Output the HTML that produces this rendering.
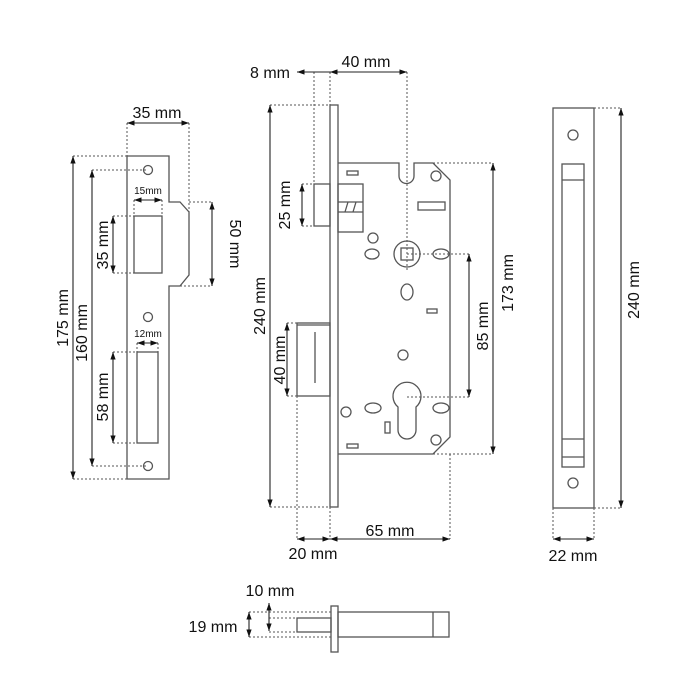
<!DOCTYPE html>
<html><head><meta charset="utf-8"><style>
html,body{margin:0;padding:0;background:#fff;}
svg{display:block;}
text{font-family:"Liberation Sans",Arial,sans-serif;fill:#111;font-size:16px;}
</style></head><body>
<svg width="700" height="700" viewBox="0 0 700 700" xmlns="http://www.w3.org/2000/svg">
<defs>
<marker id="a" viewBox="0 0 10 10" refX="10" refY="5" markerWidth="7" markerHeight="7" orient="auto-start-reverse"><path d="M0,1.5 L10,5 L0,8.5 z" fill="#111"/></marker>
</defs>
<g fill="none" stroke="#555" stroke-width="1.3">
<path d="M127,156 H169 V202 H180 L189,212 V275 L180,286 H169 V479 H127 Z"/>
<circle cx="148" cy="170" r="4.5"/><circle cx="148" cy="317" r="4.5"/><circle cx="148" cy="466" r="4.5"/>
<rect x="134" y="216" width="28" height="57"/>
<rect x="137" y="352" width="21" height="91"/>
<rect x="330" y="105" width="8" height="402"/>
<path d="M338,163 H399 V176 A7.5,7.5 0 0 0 414,176 V163 H433 L450,180 V437 L433,454 H338"/>
<rect x="314" y="184" width="16" height="42"/>
<rect x="338" y="184" width="25" height="48"/>
<line x1="338" y1="202" x2="363" y2="202"/><line x1="338" y1="212" x2="363" y2="212"/>
<line x1="345" y1="212" x2="348" y2="202"/><line x1="353" y1="212" x2="356" y2="202"/>
<rect x="297" y="323" width="33" height="73"/>
<line x1="297" y1="325" x2="330" y2="325"/>
<line x1="315" y1="332" x2="315" y2="383"/>
<rect x="347" y="171" width="11" height="4"/>
<circle cx="436" cy="176" r="5"/>
<rect x="418" y="202" width="27" height="8"/>
<circle cx="373" cy="238" r="5"/>
<ellipse cx="372" cy="254" rx="7" ry="5"/>
<circle cx="407" cy="254" r="13"/>
<rect x="401" y="248" width="12" height="12"/>
<ellipse cx="441" cy="254" rx="8" ry="5"/>
<ellipse cx="407" cy="292" rx="6" ry="8"/>
<rect x="427" y="309" width="10" height="4"/>
<circle cx="403" cy="355" r="5"/>
<path d="M398,407 A14,14 0 1 1 416,407 V430 A9,9 0 0 1 398,430 Z"/>
<circle cx="346" cy="412" r="5"/>
<ellipse cx="373" cy="408" rx="8" ry="5"/>
<ellipse cx="441" cy="408" rx="8" ry="5"/>
<rect x="385" y="422" width="5" height="11"/>
<rect x="347" y="444" width="11" height="4"/>
<circle cx="436" cy="440" r="5"/>
<rect x="553" y="108" width="41" height="400"/>
<circle cx="573" cy="135" r="5"/><circle cx="573" cy="483" r="5"/>
<rect x="562" y="164" width="22" height="303"/>
<line x1="562" y1="180" x2="584" y2="180"/>
<line x1="562" y1="439" x2="584" y2="439"/><line x1="562" y1="457" x2="584" y2="457"/>
<rect x="331" y="606" width="7" height="46"/>
<rect x="338" y="612" width="111" height="25"/>
<line x1="433" y1="612" x2="433" y2="637"/>
<rect x="297" y="618" width="34" height="14"/>
</g>
<g fill="none" stroke="#555" stroke-width="1" stroke-dasharray="2,2">
<path d="M127,123 V156 M189,123 V212 M73,156 H127 M73,479 H127 M92,170 H148 M92,466 H148 M113,216 H134 M113,273 H134 M113,352 H137 M113,443 H137 M134,200 V216 M162,200 V216 M137,343 V352 M158,343 V352 M189,202 H212 M180,286 H212"/>
<path d="M314,72 V184 M330,72 V105 M407,72 V270 M270,105 H330 M270,507 H330 M302,184 H314 M302,226 H314 M287,323 H297 M287,396 H297 M433,163 H493 M433,454 H493 M407,254 H469 M407,397 H469 M297,396 V539 M330,507 V539 M450,454 V539"/>
<path d="M594,108 H621 M594,508 H621 M553,508 V539 M594,508 V539"/>
<path d="M249,612 H331 M249,637 H331 M269,618 H297 M269,632 H297"/>
</g>
<g stroke="#222" stroke-width="1.1" marker-start="url(#a)" marker-end="url(#a)">
<line x1="127" y1="123" x2="189" y2="123"/>
<line x1="73" y1="156" x2="73" y2="479"/>
<line x1="92" y1="170" x2="92" y2="466"/>
<line x1="113" y1="216" x2="113" y2="273"/>
<line x1="113" y1="352" x2="113" y2="443"/>
<line x1="134" y1="200" x2="162" y2="200"/>
<line x1="137" y1="343" x2="158" y2="343"/>
<line x1="212" y1="202" x2="212" y2="286"/>
<line x1="330" y1="72" x2="407" y2="72"/>
<line x1="270" y1="105" x2="270" y2="507"/>
<line x1="302" y1="184" x2="302" y2="226"/>
<line x1="287" y1="323" x2="287" y2="396"/>
<line x1="493" y1="163" x2="493" y2="454"/>
<line x1="469" y1="254" x2="469" y2="397"/>
<line x1="297" y1="539" x2="330" y2="539"/>
<line x1="330" y1="539" x2="450" y2="539"/>
<line x1="621" y1="108" x2="621" y2="508"/>
<line x1="553" y1="539" x2="594" y2="539"/>
<line x1="249" y1="612" x2="249" y2="637"/>
<line x1="269" y1="603" x2="269" y2="631"/>
</g>
<line x1="297" y1="72" x2="330" y2="72" stroke="#222" stroke-width="1.1" marker-start="url(#a)"/>
<text x="157" y="118" text-anchor="middle">35 mm</text>
<text x="148" y="194" text-anchor="middle" style="font-size:10px">15mm</text>
<text x="148" y="337" text-anchor="middle" style="font-size:10px">12mm</text>
<text transform="translate(68,318) rotate(-90)" text-anchor="middle">175 mm</text>
<text transform="translate(87,333) rotate(-90)" text-anchor="middle">160 mm</text>
<text transform="translate(108,245) rotate(-90)" text-anchor="middle">35 mm</text>
<text transform="translate(108,397) rotate(-90)" text-anchor="middle">58 mm</text>
<text transform="translate(230,244) rotate(90)" text-anchor="middle">50 mm</text>
<text x="270" y="78" text-anchor="middle">8 mm</text>
<text x="366" y="67" text-anchor="middle">40 mm</text>
<text transform="translate(265,306) rotate(-90)" text-anchor="middle">240 mm</text>
<text transform="translate(290,205) rotate(-90)" text-anchor="middle">25 mm</text>
<text transform="translate(285,360) rotate(-90)" text-anchor="middle">40 mm</text>
<text transform="translate(488,326) rotate(-90)" text-anchor="middle">85 mm</text>
<text transform="translate(513,283) rotate(-90)" text-anchor="middle">173 mm</text>
<text x="390" y="536" text-anchor="middle">65 mm</text>
<text x="313" y="559" text-anchor="middle">20 mm</text>
<text transform="translate(639,290) rotate(-90)" text-anchor="middle">240 mm</text>
<text x="573" y="561" text-anchor="middle">22 mm</text>
<text x="270" y="596" text-anchor="middle">10 mm</text>
<text x="213" y="632" text-anchor="middle">19 mm</text>
</svg>
</body></html>
